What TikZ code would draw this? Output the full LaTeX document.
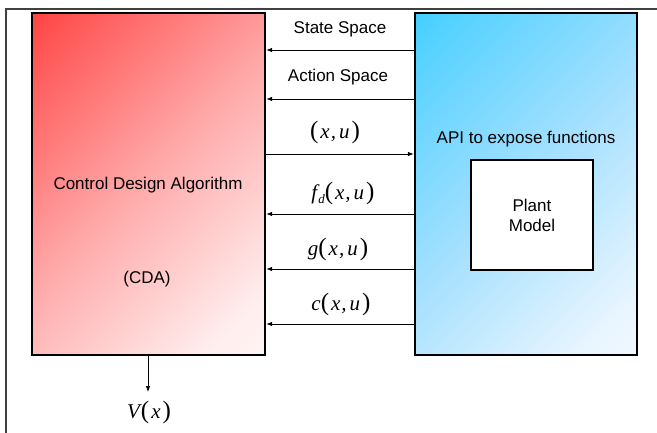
\documentclass[tikz,border=0pt]{standalone}
\usepackage{fontspec}
\setmainfont{Liberation Sans}
\newfontfamily\mathserif{Liberation Serif}
\usepackage{tikz}
\usetikzlibrary{positioning}
\usetikzlibrary{calc}
\usetikzlibrary{arrows.meta}

\definecolor{cdared}{RGB}{255,20,20}
\definecolor{cdadeep}{RGB}{255,85,85}
\definecolor{cdamid}{RGB}{255,172,172}
\definecolor{cdapale}{RGB}{255,238,238}
\definecolor{apiblue}{RGB}{15,200,255}
\definecolor{apideep}{RGB}{85,210,255}
\definecolor{apimid}{RGB}{165,224,255}
\definecolor{apipale}{RGB}{232,245,255}

% corner to corner gradients
\pgfdeclareverticalshading{cdashade}{100bp}{color(0bp)=(white); color(22bp)=(cdapale); color(50bp)=(cdamid); color(80bp)=(cdadeep); color(100bp)=(cdared)}
\pgfdeclareverticalshading{apishade}{100bp}{color(0bp)=(white); color(22bp)=(apipale); color(50bp)=(apimid); color(80bp)=(apideep); color(100bp)=(apiblue)}

% italic variables and tall brackets in Times style
\newcommand{\vr}[1]{{\mathserif\fontsize{21}{24}\selectfont\itshape #1}}
\newcommand{\br}[1]{{\mathserif\fontsize{25}{26}\selectfont #1}}
\newcommand{\argxu}{\br{(}\kern2pt\vr{x}\kern1pt\vr{,}\kern3pt\vr{u}\kern2pt\br{)}}

\begin{document}
\begin{tikzpicture}[
		x=1pt, y=-1pt,
		every node/.style = {
			font=\fontsize{17}{20}\selectfont,
			align=center,
			inner sep=0pt
		},
		block/.style={
			shape=rectangle,
			draw=black,
			line width=2.4pt
		},
		cdabox/.style={block, shading=cdashade, shading angle=45},
		apibox/.style={block, shading=apishade, shading angle=45},
		plantbox/.style={block, fill=white, line width=2.2pt, minimum width=122pt, minimum height=110pt},
		sig/.style={-{Latex[length=6pt,width=4.5pt]}, line width=0.7pt}
		]
		\useasboundingbox (0,0) rectangle (657,433);
		% outer frame
		\draw[line width=1.3pt, black!75] (6,433) -- (6,9) -- (657,9);
		
		% the two blocks
		\node[cdabox, minimum width=233pt, minimum height=342pt] (cda) at (148.5,184) {};
		\node[apibox, minimum width=222pt, minimum height=342pt] (api) at (526,184) {};
		\node at (148,185) (cdaname) {Control Design Algorithm};
		\node at (147,279) (cdaabbr) {(CDA)};
		\node at (526,139) (apiname) {API to expose functions};
		\node[plantbox] (plant) at (532,215) {Plant \\ Model};
		
		% signals between the blocks
		\node at (340,29) (ss) {State Space};
		\draw[sig] (api.west |- 0,50) -- (cda.east |- 0,50);
		\node at (338,77) (as) {Action Space};
		\draw[sig] (api.west |- 0,99) -- (cda.east |- 0,99);
		\node at (335,132) (xu) {\argxu};
		\draw[sig] (cda.east |- 0,154) -- (api.west |- 0,154);
		\node at (343,193) (fd) {\vr{f}\kern1pt\raisebox{-4pt}{\mathserif\fontsize{13}{14}\selectfont\itshape d}\argxu};
		\draw[sig] (api.west |- 0,214) -- (cda.east |- 0,214);
		\node at (338,249) (gf) {\vr{g}\argxu};
		\draw[sig] (api.west |- 0,269) -- (cda.east |- 0,269);
		\node at (341,304) (cf) {\vr{c}\argxu};
		\draw[sig] (api.west |- 0,324) -- (cda.east |- 0,324);
		
		% value function out of the CDA
		\node at (149,412) (vx) {\vr{V}\kern1pt\br{(}\kern2pt\vr{x}\kern2pt\br{)}};
		\draw[sig] (cda.south -| 148,0) -- (148,392);
	\end{tikzpicture}
\end{document}
